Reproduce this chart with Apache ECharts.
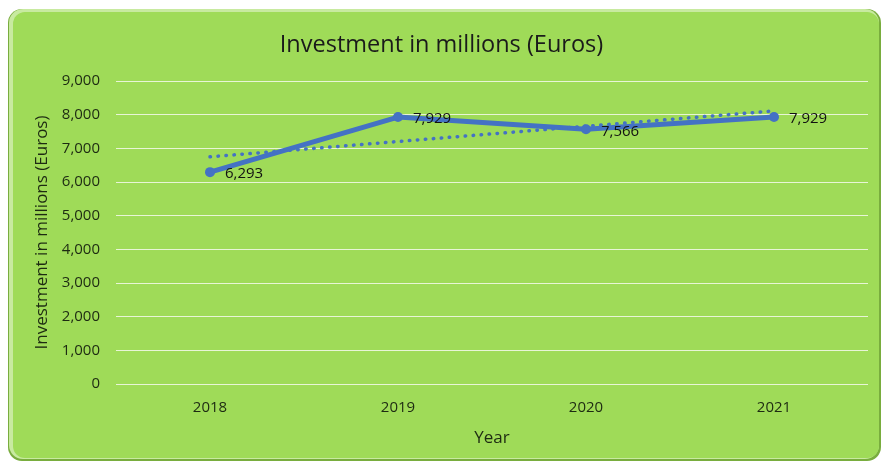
<!DOCTYPE html>
<html>
<head>
<meta charset="utf-8">
<style>
  html, body { margin: 0; padding: 0; background: #ffffff; }
  #chart { width: 883px; height: 464px; }
</style>
<script src="https://cdn.jsdelivr.net/npm/echarts@6/dist/echarts.min.js"></script>
</head>
<body>
<div id="chart"></div>
<script>
// Annual investment, millions of euros
const years = ['2018', '2019', '2020', '2021'];
const investment = [6293, 7929, 7566, 7929];
// Linear trendline values at the first and last year
const trendline = [6748, 8111];
const yTicks = { min: 0, max: 9000, interval: 1000 };

const FONT = '"Open Sans", "Noto Sans", sans-serif';
const BLUE = '#4472C4';
const TEXT = '#1d2a12';

const chart = echarts.init(document.getElementById('chart'), null, { renderer: 'canvas' });

chart.setOption({
  backgroundColor: '#ffffff',
  animation: false,
  graphic: [
    // chart panel: darker rim with a lighter face on top
    { type: 'rect', z: -10, shape: { x: 8, y: 9, width: 873, height: 452, r: 14 },
      style: { fill: '#79ad3e' } },
    { type: 'rect', z: -9, shape: { x: 9, y: 9, width: 870, height: 450, r: 14 },
      style: { fill: '#c8eaa0' } },
    { type: 'rect', z: -8, shape: { x: 13, y: 12, width: 866, height: 446, r: 12 },
      style: { fill: '#9fdb58' } }
  ],
  title: {
    text: 'Investment in millions (Euros)',
    left: 'center',
    top: 28,
    textStyle: { fontFamily: FONT, fontSize: 23.5, fontWeight: 'normal', color: '#1a1a1a' }
  },
  grid: { left: 116, right: 15, top: 81, bottom: 80, containLabel: false },
  xAxis: {
    type: 'category',
    data: years,
    boundaryGap: true,
    name: 'Year',
    nameLocation: 'middle',
    nameGap: 46,
    nameTextStyle: { fontFamily: FONT, fontSize: 17, color: TEXT },
    axisLine: { show: false },
    axisTick: { show: false },
    axisLabel: { fontFamily: FONT, fontSize: 15, color: TEXT, margin: 16 }
  },
  yAxis: {
    type: 'value',
    min: yTicks.min,
    max: yTicks.max,
    interval: yTicks.interval,
    name: 'Investment in millions (Euros)',
    nameLocation: 'middle',
    nameGap: 63,
    nameTextStyle: { fontFamily: FONT, fontSize: 17, color: TEXT },
    axisLine: { show: false },
    axisTick: { show: false },
    axisLabel: {
      fontFamily: FONT, fontSize: 15, color: TEXT, margin: 16,
      formatter: v => v.toLocaleString('en-US')
    },
    splitLine: { lineStyle: { color: '#e8f5d6', width: 1 } }
  },
  series: [
    {
      name: 'Investment',
      type: 'line',
      data: investment,
      symbol: 'circle',
      symbolSize: 10,
      lineStyle: { color: BLUE, width: 5 },
      itemStyle: { color: BLUE },
      label: {
        show: true,
        position: 'right',
        distance: 10,
        offset: [0, 2],
        fontFamily: FONT,
        fontSize: 15,
        color: '#111111',
        formatter: p => p.value.toLocaleString('en-US')
      },
      markLine: {
        silent: true,
        symbol: ['none', 'none'],
        label: { show: false },
        lineStyle: { color: BLUE, width: 3.5, type: [0.5, 7.5], cap: 'round' },
        data: [[
          { coord: [0, trendline[0]] },
          { coord: [years.length - 1, trendline[1]] }
        ]]
      },
      z: 3
    }
  ]
});
</script>
</body>
</html>
